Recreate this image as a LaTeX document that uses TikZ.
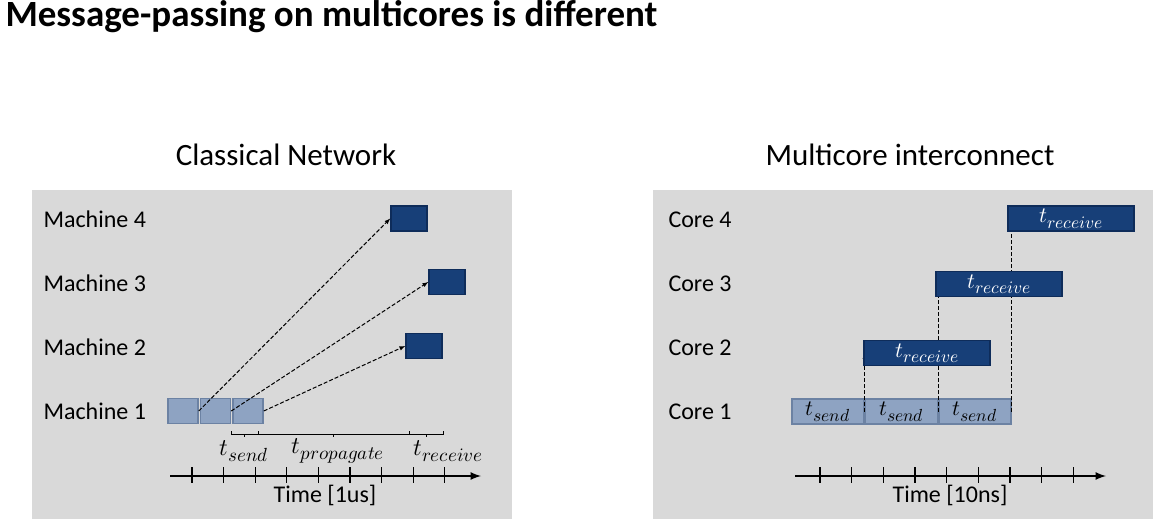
\documentclass[tikz,border=0pt]{standalone}
\usepackage{amsmath}
\usepackage{fontspec}
\usepackage{unicode-math}
\setmainfont{Carlito}
\setmathfont{Latin Modern Math}
\DeclareMathSizes{24}{24}{19}{14}
\DeclareMathSizes{22}{22}{17.5}{13}
\usetikzlibrary{positioning}

\definecolor{panelgray}{RGB}{217,217,217}
\definecolor{sendfill}{RGB}{142,163,194}
\definecolor{sendline}{RGB}{108,130,163}
\definecolor{recvfill}{RGB}{23,63,120}
\definecolor{recvline}{RGB}{14,44,90}

\pgfdeclarelayer{back}
\pgfdeclarelayer{front}
\pgfsetlayers{back,main,front}

\tikzset{
  sendbox/.style={draw=sendline,fill=sendfill,line width=1.5pt,inner sep=0pt,minimum height=25pt,
    font=\fontsize{22}{24}\selectfont},
  recvbox/.style={draw=recvline,fill=recvfill,line width=1.5pt,inner sep=0pt,minimum height=25pt,
    text=white,font=\fontsize{22}{24}\selectfont},
  msg/.style={dash pattern=on 4pt off 2pt,-latex,line width=1pt},
  rowlbl/.style={anchor=west,font=\fontsize{24}{28}\selectfont},
  headlbl/.style={font=\fontsize{31}{36}\selectfont},
  tlbl/.style={font=\fontsize{24}{28}\selectfont},
  axis/.style={-latex,line width=2.5pt},
  tick/.style={line width=1.2pt},
  bracket/.style={line width=1pt}
}

\begin{document}
\begin{tikzpicture}[x=1pt,y=-1pt]
    \useasboundingbox (0,0) rectangle (1160,519);

    % panels
    \begin{pgfonlayer}{back}
    \fill [panelgray] (32,190) rectangle (512,519);
    \fill [panelgray] (653,190) rectangle (1153,519);
    \end{pgfonlayer}

    \node [anchor=base west,font=\bfseries\fontsize{37}{42}\selectfont] (title) at (2,27)
        {Message-passing on multicores is different};
    \node [headlbl] (classical) at (286,155) {Classical Network};
    \node [headlbl] (multicore) at (910,155) {Multicore interconnect};

    \foreach \i/\y in {4/219,3/283,2/347,1/411} {
        \node [rowlbl] (mach\i) at (40,\y) {Machine \i};
        \node [rowlbl] (core\i) at (665,\y+1) {Core \i};
    }

    % classical network
    \node [sendbox,minimum width=30pt] (snd1) at (183,411) {};
    \node [sendbox,minimum width=30pt,right=1pt of snd1] (snd2) {};
    \node [sendbox,minimum width=30pt,right=1pt of snd2] (snd3) {};

    \node [recvbox,minimum width=36pt] (rcv4) at (409,218.5) {};
    \node [recvbox,minimum width=36pt] (rcv3) at (447,282) {};
    \node [recvbox,minimum width=36pt] (rcv2) at (424,346) {};

    \draw [msg] (snd1.east) -- (rcv4.west);
    \draw [msg] (snd2.east) -- (rcv3.west);
    \draw [msg] (snd3.east) -- (rcv2.west);

    \foreach \a/\b in {231/258,258/409,409/443} {
        \draw [bracket] (\a,431) -- (\a,434) -- (\b,434) -- (\b,431);
        \draw [bracket] ({(\a+\b)/2},434) -- ++(0,3);
    }
    \node [tlbl] (tsend) at (244,451) {$t_{send}$};
    \node [tlbl] (tprop) at (338,451) {$t_{propagate}$};
    \node [tlbl] (trecv) at (448,451) {$t_{receive}$};

    \draw [axis] (170,476) -- (481,476);
    \foreach \i in {0,...,8}
        \draw [tick] (192+31.6*\i,467) -- (192+31.6*\i,483);
    \node [rowlbl,anchor=center] (time1) at (325,495) {Time [1us]};

    % multicore interconnect
    \node [sendbox,minimum width=72pt] (csnd1) at (828,411.5) {$t_{send}$};
    \node [sendbox,minimum width=72pt,right=0pt of csnd1] (csnd2) {$t_{send}$};
    \node [sendbox,minimum width=72pt,right=0pt of csnd2] (csnd3) {$t_{send}$};

    \begin{pgfonlayer}{front}
    \node [recvbox,minimum width=126pt] (crcv2) at (927,353) {$t_{receive}$};
    \node [recvbox,minimum width=126pt] (crcv3) at (999,284) {$t_{receive}$};
    \node [recvbox,minimum width=126pt] (crcv4) at (1071,218.5) {$t_{receive}$};
    \end{pgfonlayer}

    \draw [msg] (csnd1.east) -- (csnd1.east |- crcv2.west);
    \draw [msg] (csnd2.east) -- (csnd2.east |- crcv3.west);
    \draw [msg] (csnd3.east) -- (csnd3.east |- crcv4.west);

    \draw [axis] (795,476) -- (1106,476);
    \foreach \i in {0,...,8}
        \draw [tick] (820+31.65*\i,467) -- (820+31.65*\i,483);
    \node [rowlbl,anchor=center] (time2) at (950,495) {Time [10ns]};
\end{tikzpicture}
\end{document}
